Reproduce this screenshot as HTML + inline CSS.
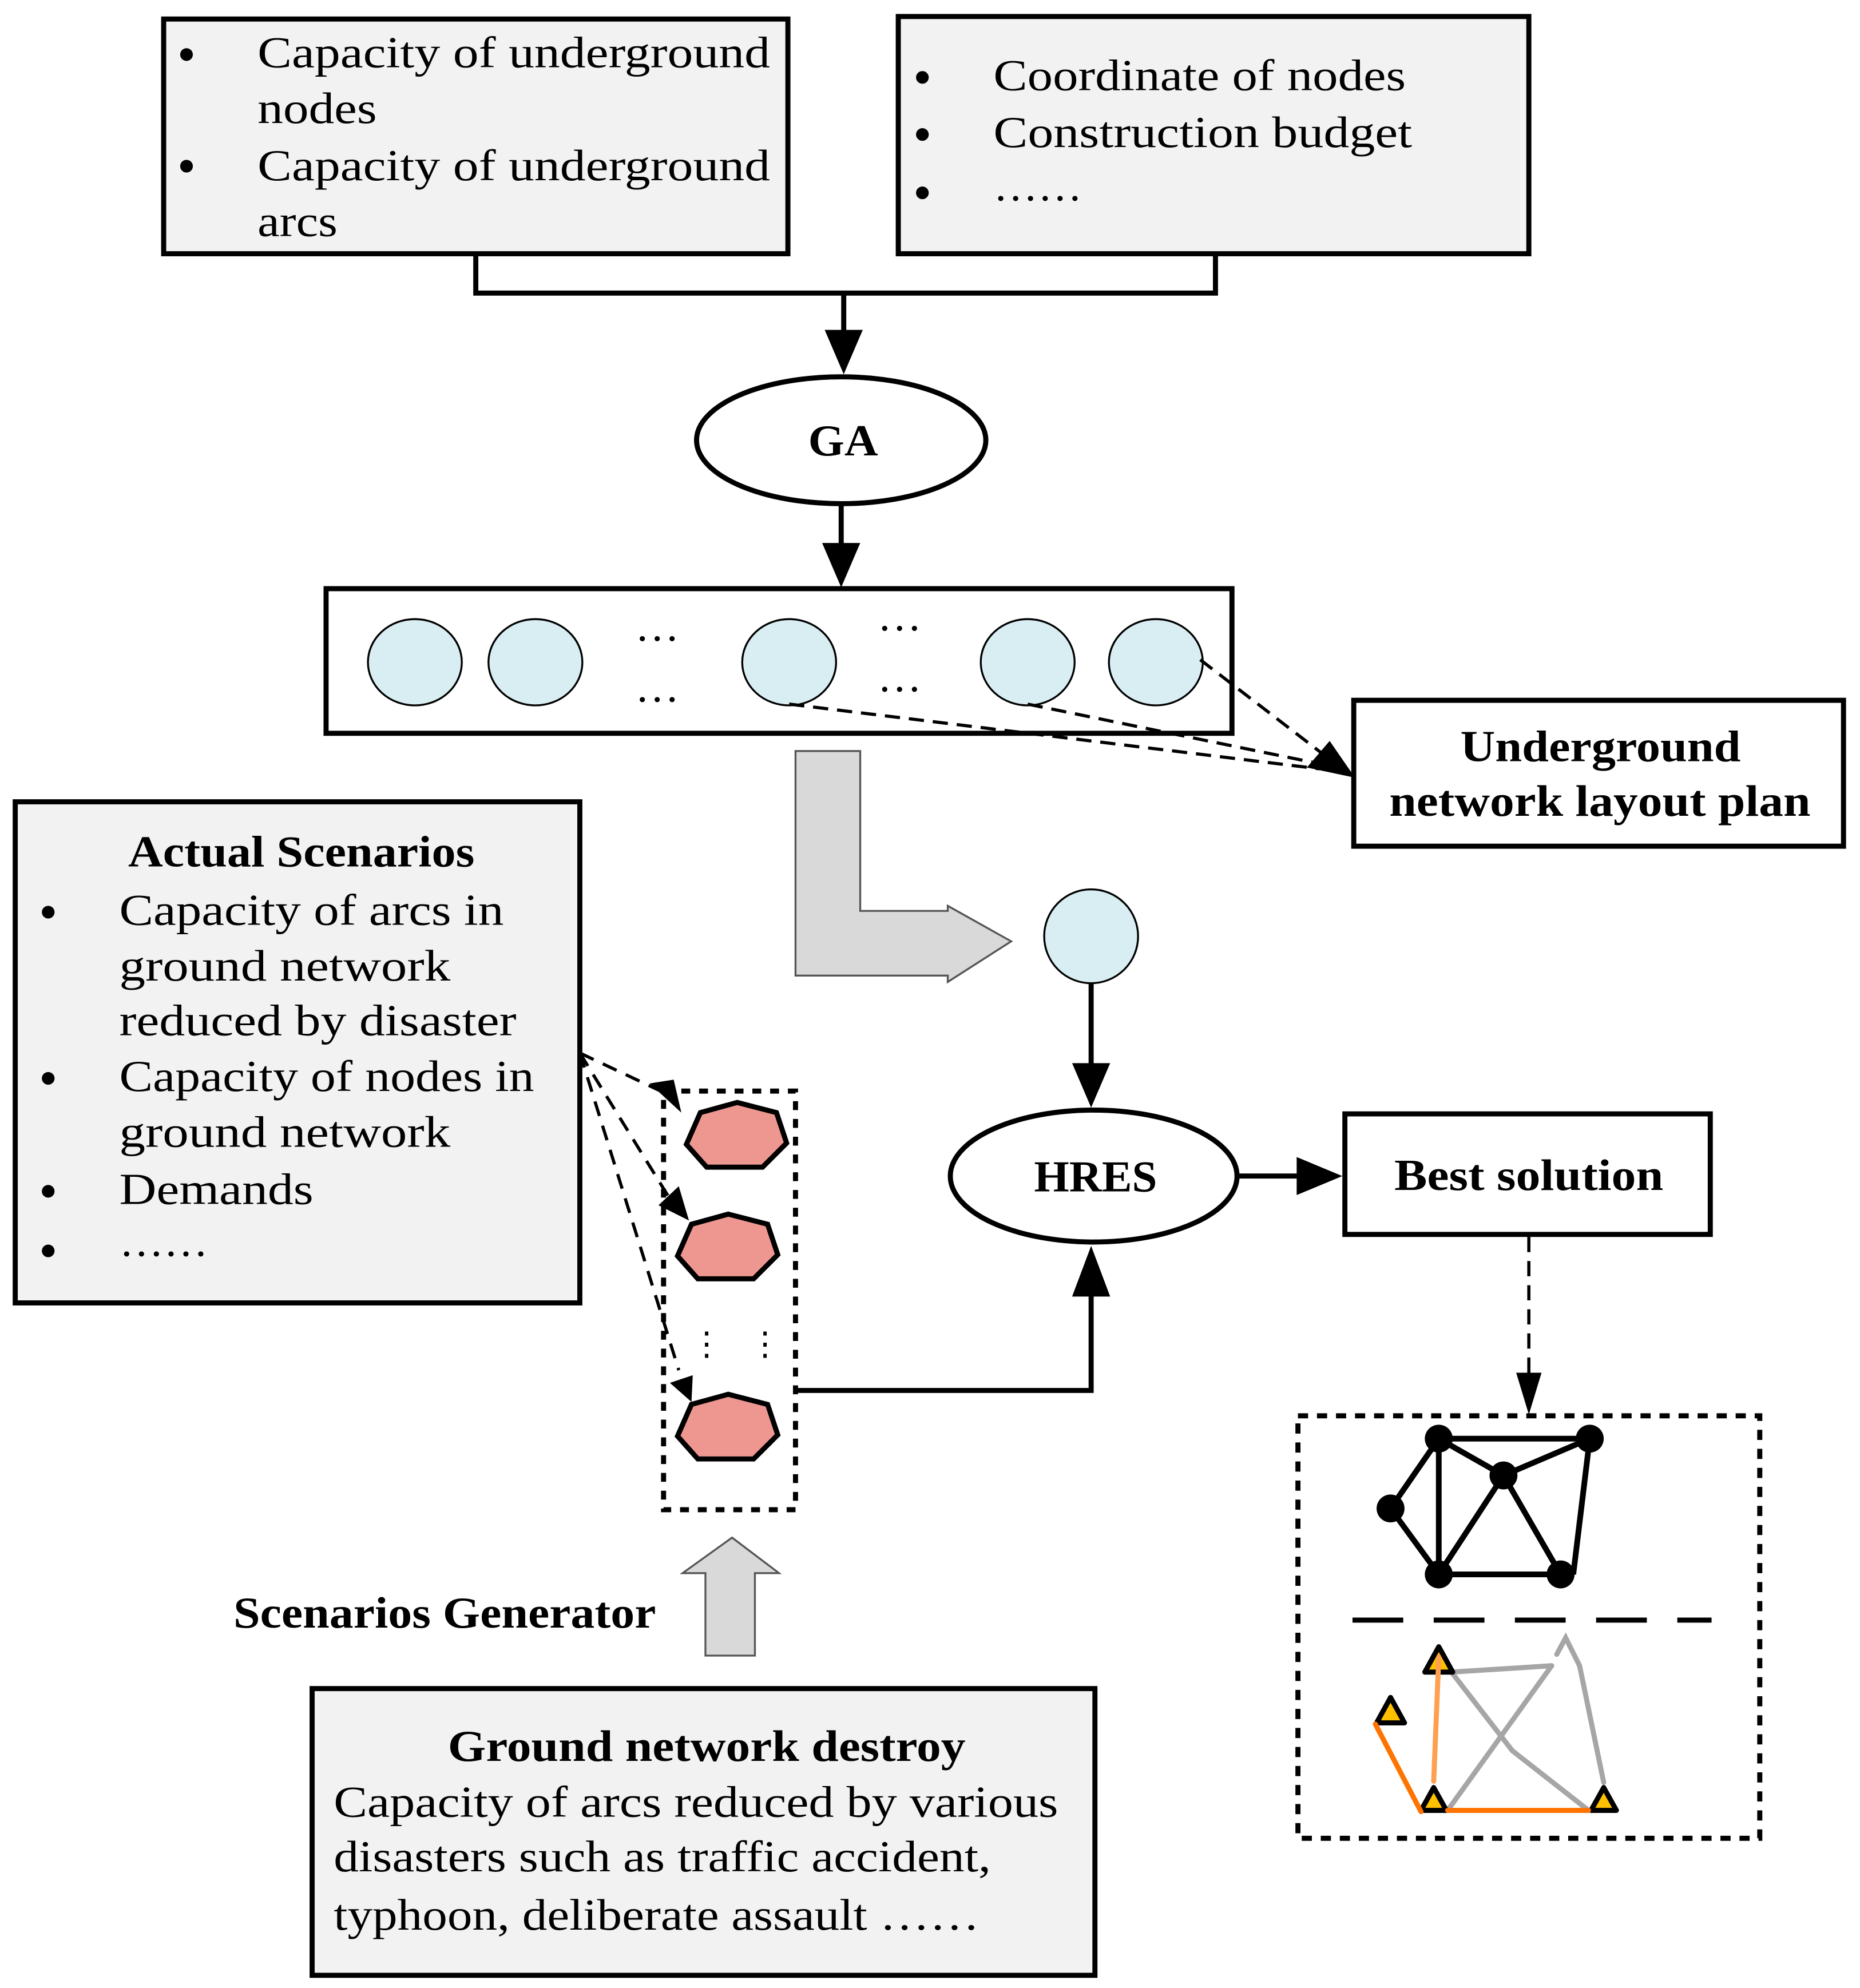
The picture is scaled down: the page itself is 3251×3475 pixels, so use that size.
<!DOCTYPE html>
<html><head><meta charset="utf-8"><style>
html,body{margin:0;padding:0;background:#fff}
svg{display:block}
text{font-family:"Liberation Serif",serif;font-size:35px;fill:#000}
.b{font-weight:bold}
</style></head><body>
<svg width="3251" height="3475" viewBox="0 0 1466 1567" xmlns="http://www.w3.org/2000/svg">
<!-- top boxes -->
<rect x="129" y="15" width="492" height="185" fill="#f2f2f2" stroke="#000" stroke-width="4"/>
<rect x="708" y="13" width="497" height="187" fill="#f2f2f2" stroke="#000" stroke-width="4"/>
<g>
<circle cx="147" cy="43" r="5"/><circle cx="147" cy="131" r="5"/>
<text x="203" y="53" textLength="404" lengthAdjust="spacingAndGlyphs">Capacity of underground</text>
<text x="203" y="97" textLength="94" lengthAdjust="spacingAndGlyphs">nodes</text>
<text x="203" y="142" textLength="404" lengthAdjust="spacingAndGlyphs">Capacity of underground</text>
<text x="203" y="186" textLength="63" lengthAdjust="spacingAndGlyphs">arcs</text>
<circle cx="727" cy="61" r="5"/><circle cx="727" cy="106" r="5"/><circle cx="727" cy="152" r="5"/>
<text x="783" y="71" textLength="325" lengthAdjust="spacingAndGlyphs">Coordinate of nodes</text>
<text x="783" y="116" textLength="330" lengthAdjust="spacingAndGlyphs">Construction budget</text>
<text x="783" y="158" textLength="70" lengthAdjust="spacingAndGlyphs">……</text>
</g>
<polyline points="375,200 375,231 958,231 958,200" fill="none" stroke="#000" stroke-width="4"/>
<line x1="665" y1="231" x2="665" y2="262" stroke="#000" stroke-width="4"/>
<polygon points="650,260 680,260 665,295" fill="#000"/>
<!-- GA -->
<ellipse cx="663" cy="347" rx="114" ry="50" fill="#fff" stroke="#000" stroke-width="4"/>
<text class="b" x="637" y="359" textLength="55" lengthAdjust="spacingAndGlyphs">GA</text>
<line x1="663" y1="397" x2="663" y2="430" stroke="#000" stroke-width="4"/>
<polygon points="648,428 678,428 663,463" fill="#000"/>
<!-- population rect -->
<rect x="257" y="464" width="714" height="114" fill="#fff" stroke="#000" stroke-width="4"/>
<g fill="#d9eef2" stroke="#000" stroke-width="1.5">
<ellipse cx="327" cy="522" rx="37" ry="34"/><ellipse cx="422" cy="522" rx="37" ry="34"/>
<ellipse cx="622" cy="522" rx="37" ry="34"/><ellipse cx="810" cy="522" rx="37" ry="34"/>
<ellipse cx="911" cy="522" rx="37" ry="34"/>
</g>
<text x="518" y="505" text-anchor="middle">…</text>
<text x="518" y="553" text-anchor="middle">…</text>
<text x="709" y="497" text-anchor="middle">…</text>
<text x="709" y="545" text-anchor="middle">…</text>
<g stroke="#000" stroke-width="2.5" stroke-dasharray="12,7" fill="none">
<line x1="946" y1="520" x2="1050" y2="600"/>
<line x1="622" y1="555" x2="1040" y2="606"/>
<line x1="810" y1="555" x2="1040" y2="602"/>
</g>
<polygon points="1068,613 1030,605 1048,584" fill="#000"/>
<rect x="1067" y="552" width="386" height="115" fill="#fff" stroke="#000" stroke-width="4"/>
<text class="b" x="1151" y="600" textLength="221" lengthAdjust="spacingAndGlyphs">Underground</text>
<text class="b" x="1095" y="643" textLength="332" lengthAdjust="spacingAndGlyphs">network layout plan</text>
<!-- gray L arrow -->
<polygon points="627,592 678,592 678,718 747,718 747,714 797,742 747,774 747,769 627,769" fill="#d9d9d9" stroke="#555" stroke-width="1.5"/>
<circle cx="860" cy="738" r="37" fill="#d9eef2" stroke="#000" stroke-width="1.5"/>
<line x1="860" y1="775" x2="860" y2="840" stroke="#000" stroke-width="4"/>
<polygon points="845,838 875,838 860,873" fill="#000"/>
<!-- HRES -->
<ellipse cx="862" cy="927" rx="113" ry="52" fill="#fff" stroke="#000" stroke-width="4"/>
<text class="b" x="815" y="939" textLength="97" lengthAdjust="spacingAndGlyphs">HRES</text>
<line x1="976" y1="927" x2="1025" y2="927" stroke="#000" stroke-width="4"/>
<polygon points="1022,912 1022,942 1058,927" fill="#000"/>
<rect x="1060" y="878" width="288" height="95" fill="#fff" stroke="#000" stroke-width="4"/>
<text class="b" x="1099" y="938" textLength="212" lengthAdjust="spacingAndGlyphs">Best solution</text>
<line x1="1205" y1="975" x2="1205" y2="1085" stroke="#000" stroke-width="2.5" stroke-dasharray="12,7"/>
<polygon points="1195,1082 1215,1082 1205,1115" fill="#000"/>
<!-- result network box -->
<rect x="1023" y="1116" width="364" height="333" fill="#fff" stroke="#000" stroke-width="4" stroke-dasharray="8,7"/>
<g stroke="#000" stroke-width="4.5">
<line x1="1134" y1="1134" x2="1253" y2="1134"/><line x1="1134" y1="1134" x2="1185" y2="1163"/>
<line x1="1134" y1="1134" x2="1096" y2="1189"/><line x1="1134" y1="1134" x2="1134" y2="1241"/>
<line x1="1185" y1="1163" x2="1253" y2="1134"/><line x1="1185" y1="1163" x2="1134" y2="1241"/>
<line x1="1185" y1="1163" x2="1230" y2="1241"/><line x1="1253" y1="1134" x2="1240" y2="1241"/>
<line x1="1096" y1="1189" x2="1134" y2="1241"/><line x1="1134" y1="1241" x2="1230" y2="1241"/>
</g>
<g fill="#000">
<circle cx="1134" cy="1134" r="11"/><circle cx="1253" cy="1134" r="11"/><circle cx="1185" cy="1163" r="11"/>
<circle cx="1096" cy="1189" r="11"/><circle cx="1134" cy="1241" r="11"/><circle cx="1230" cy="1241" r="11"/>
</g>
<line x1="1066" y1="1277" x2="1349" y2="1277" stroke="#000" stroke-width="4" stroke-dasharray="40,24"/>
<g stroke="#a6a6a6" stroke-width="4" fill="none" stroke-linecap="round">
<line x1="1144" y1="1318" x2="1223" y2="1313"/><line x1="1144" y1="1318" x2="1192" y2="1380"/>
<line x1="1223" y1="1313" x2="1141" y2="1427"/><line x1="1192" y1="1380" x2="1252" y2="1427"/>
<line x1="1245" y1="1313" x2="1264" y2="1405"/><polyline points="1227,1304 1234,1291 1245,1313"/>
</g>
<g fill="#ffc000" stroke="#000" stroke-width="4" stroke-linejoin="round">
<polygon points="1134,1298 1123,1318 1145,1318"/>
<polygon points="1096,1338 1085,1358 1107,1358"/>
<polygon points="1130,1409 1120,1427 1140,1427"/>
<polygon points="1264,1409 1254,1427 1274,1427"/>
</g>
<g stroke-width="4" stroke-linecap="round">
<line x1="1084" y1="1359" x2="1120" y2="1428" stroke="#ff7300"/>
<line x1="1141" y1="1427" x2="1252" y2="1427" stroke="#ff7300"/>
<line x1="1130" y1="1404" x2="1134" y2="1306" stroke="#ffa050"/>
</g>
<!-- Actual scenarios -->
<rect x="12" y="632" width="445" height="395" fill="#f2f2f2" stroke="#000" stroke-width="4"/>
<text class="b" x="101" y="683" textLength="273" lengthAdjust="spacingAndGlyphs">Actual Scenarios</text>
<circle cx="38" cy="719" r="5"/><circle cx="38" cy="850" r="5"/><circle cx="38" cy="939" r="5"/><circle cx="38" cy="986" r="5"/>
<text x="94" y="729" textLength="303" lengthAdjust="spacingAndGlyphs">Capacity of  arcs in</text>
<text x="94" y="773" textLength="261" lengthAdjust="spacingAndGlyphs">ground network</text>
<text x="94" y="816" textLength="313" lengthAdjust="spacingAndGlyphs">reduced by disaster</text>
<text x="94" y="860" textLength="327" lengthAdjust="spacingAndGlyphs">Capacity of nodes in</text>
<text x="94" y="904" textLength="261" lengthAdjust="spacingAndGlyphs">ground network</text>
<text x="94" y="949" textLength="153" lengthAdjust="spacingAndGlyphs">Demands</text>
<text x="94" y="990" textLength="70" lengthAdjust="spacingAndGlyphs">……</text>
<g stroke="#000" stroke-width="2.5" stroke-dasharray="12,8">
<line x1="457" y1="830" x2="525" y2="862"/>
<line x1="457" y1="830" x2="528" y2="945"/>
<line x1="457" y1="830" x2="535" y2="1080"/>
</g>
<polygon points="537,877 512,854 531,851" fill="#000"/>
<polygon points="543,962 519,950 535,935" fill="#000"/>
<polygon points="545,1105 528,1090 546,1084" fill="#000"/>
<rect x="523" y="860" width="104" height="330" fill="none" stroke="#000" stroke-width="4" stroke-dasharray="7,7"/>
<g fill="#ed9790" stroke="#000" stroke-width="4">
<polygon points="581,869 612,877 620,901 601,920 557,920 541,902 552,877"/>
<polygon points="574,957 605,965 613,989 594,1008 550,1008 534,990 545,965"/>
<polygon points="574,1099 605,1107 613,1131 594,1150 550,1150 534,1132 545,1107"/>
</g>
<text x="557" y="1068" text-anchor="middle" style="font-size:26px">⋮</text>
<text x="603" y="1068" text-anchor="middle" style="font-size:26px">⋮</text>
<polyline points="627,1096 860,1096 860,1020" fill="none" stroke="#000" stroke-width="4"/>
<polygon points="845,1022 875,1022 860,982" fill="#000"/>
<!-- gray up arrow -->
<polygon points="577,1212 614,1240 595,1240 595,1305 556,1305 556,1240 538,1240" fill="#d9d9d9" stroke="#555" stroke-width="1.5"/>
<text class="b" x="184" y="1283" textLength="333" lengthAdjust="spacingAndGlyphs">Scenarios Generator</text>
<!-- bottom box -->
<rect x="246" y="1331" width="617" height="226" fill="#f2f2f2" stroke="#000" stroke-width="4"/>
<text class="b" x="353" y="1388" textLength="408" lengthAdjust="spacingAndGlyphs">Ground network destroy</text>
<text x="263" y="1432" textLength="571" lengthAdjust="spacingAndGlyphs">Capacity of arcs reduced by various</text>
<text x="263" y="1475" textLength="518" lengthAdjust="spacingAndGlyphs">disasters such as traffic accident,</text>
<text x="263" y="1521" textLength="509" lengthAdjust="spacingAndGlyphs">typhoon, deliberate assault ……</text>
</svg>
</body></html>
